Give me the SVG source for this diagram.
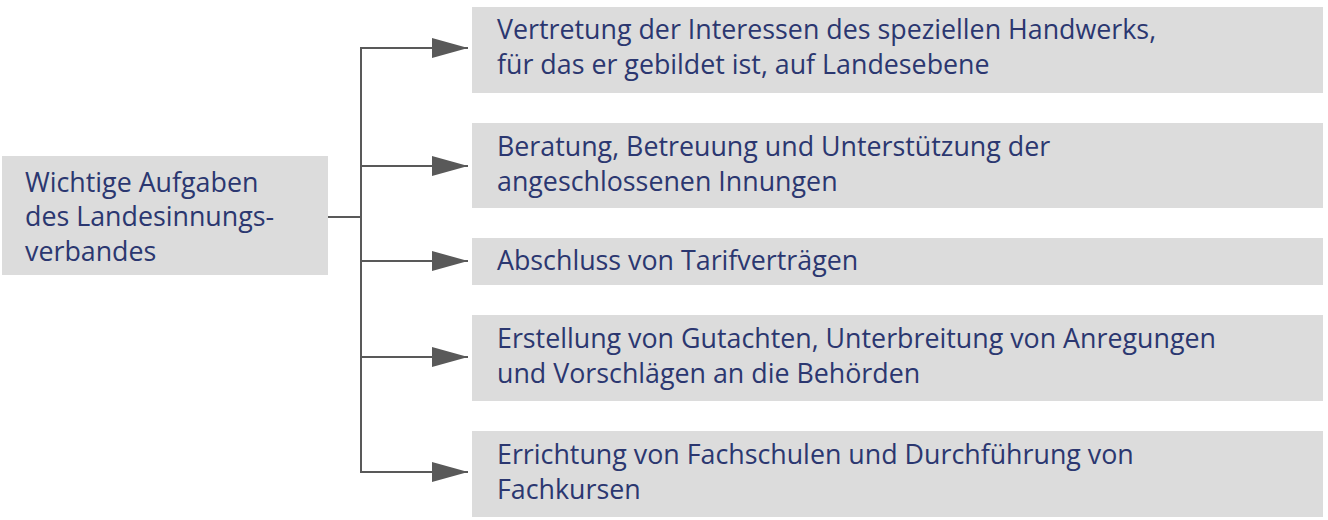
<svg xmlns="http://www.w3.org/2000/svg" width="1328" height="520" viewBox="0 0 1328 520">
<style>
.box{fill:#dcdcdc}
.t{font-family:"Open Sans",Lato,sans-serif;font-size:26.8px;fill:#2b3770}
.c{stroke:#595959;stroke-width:2;fill:none}
</style>
<defs>
<marker id="ah" markerWidth="36" markerHeight="20" refX="36" refY="10" orient="auto" markerUnits="userSpaceOnUse">
<path d="M0,0 L36,10 L0,20 Z" fill="#595959"/>
</marker>
</defs>
<rect width="1328" height="520" fill="#ffffff"/>
<g id="connectors">
<path class="c" d="M328,217 H361"/>
<path class="c" d="M361,48 V472"/>
<path class="c" d="M360,48 H468" marker-end="url(#ah)"/>
<path class="c" d="M360,166 H468" marker-end="url(#ah)"/>
<path class="c" d="M360,261 H468" marker-end="url(#ah)"/>
<path class="c" d="M360,357 H468" marker-end="url(#ah)"/>
<path class="c" d="M360,472 H468" marker-end="url(#ah)"/>
</g>
<g id="root">
<rect class="box" x="2" y="156" width="326" height="119"/>
<text class="t" x="25" y="192">Wichtige Aufgaben</text>
<text class="t" x="25" y="226">des Landesinnungs-</text>
<text class="t" x="25" y="261">verbandes</text>
</g>
<g id="n1">
<rect class="box" x="472" y="7" width="851" height="86"/>
<text class="t" x="497" y="39">Vertretung der Interessen des speziellen Handwerks,</text>
<text class="t" x="497" y="74">für das er gebildet ist, auf Landesebene</text>
</g>
<g id="n2">
<rect class="box" x="472" y="123" width="851" height="85"/>
<text class="t" x="497" y="156">Beratung, Betreuung und Unterstützung der</text>
<text class="t" x="497" y="191">angeschlossenen Innungen</text>
</g>
<g id="n3">
<rect class="box" x="472" y="238" width="851" height="47"/>
<text class="t" x="497" y="270">Abschluss von Tarifverträgen</text>
</g>
<g id="n4">
<rect class="box" x="472" y="315" width="851" height="86"/>
<text class="t" x="497" y="348">Erstellung von Gutachten, Unterbreitung von Anregungen</text>
<text class="t" x="497" y="383">und Vorschlägen an die Behörden</text>
</g>
<g id="n5">
<rect class="box" x="472" y="431" width="851" height="86"/>
<text class="t" x="497" y="464">Errichtung von Fachschulen und Durchführung von</text>
<text class="t" x="497" y="499">Fachkursen</text>
</g>
</svg>
